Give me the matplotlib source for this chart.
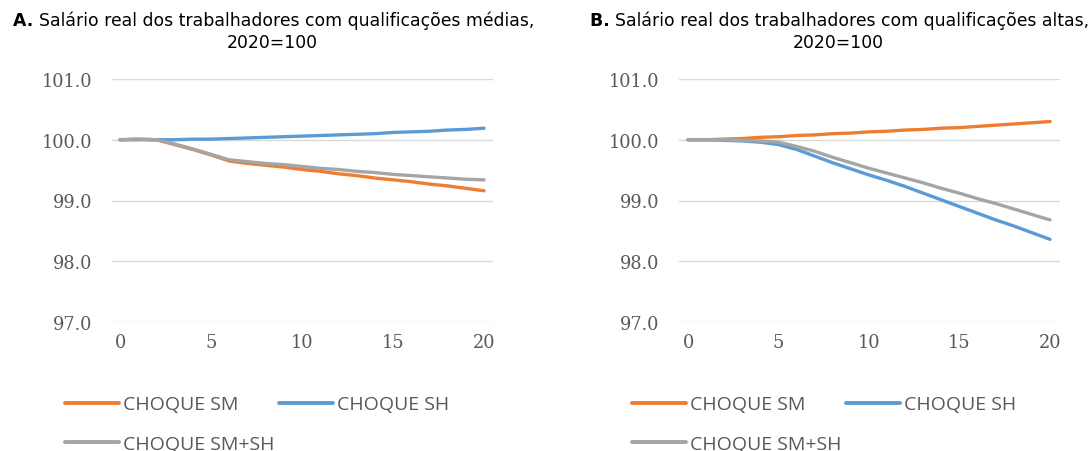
import matplotlib
matplotlib.use("Agg")
import matplotlib.pyplot as plt

years = list(range(21))

# Panel A: medium-skilled workers
a_sm = [100.00, 100.01, 100.00, 99.92, 99.84, 99.75, 99.65, 99.61, 99.58, 99.55, 99.51,
        99.48, 99.44, 99.41, 99.37, 99.34, 99.31, 99.27, 99.24, 99.20, 99.16]
a_sh = [100.00, 100.00, 100.00, 100.00, 100.01, 100.01, 100.02, 100.03, 100.04, 100.05, 100.06,
        100.07, 100.08, 100.09, 100.10, 100.12, 100.13, 100.14, 100.16, 100.17, 100.19]
a_both = [100.00, 100.01, 100.00, 99.93, 99.85, 99.76, 99.67, 99.64, 99.61, 99.59, 99.56,
          99.53, 99.51, 99.48, 99.46, 99.43, 99.41, 99.39, 99.37, 99.35, 99.34]

# Panel B: high-skilled workers
b_sm = [100.00, 100.00, 100.01, 100.02, 100.04, 100.05, 100.07, 100.08, 100.10, 100.11, 100.13,
        100.14, 100.16, 100.17, 100.19, 100.20, 100.22, 100.24, 100.26, 100.28, 100.30]
b_sh = [100.00, 100.00, 99.99, 99.98, 99.96, 99.92, 99.84, 99.73, 99.62, 99.52, 99.42,
        99.33, 99.23, 99.12, 99.01, 98.90, 98.79, 98.68, 98.58, 98.47, 98.36]
b_both = [100.00, 100.00, 100.00, 99.99, 99.98, 99.96, 99.89, 99.81, 99.71, 99.62, 99.53,
          99.45, 99.37, 99.29, 99.20, 99.12, 99.03, 98.95, 98.86, 98.77, 98.68]

labels = ["CHOQUE SM", "CHOQUE SH", "CHOQUE SM+SH"]
colors = ["#ED7D31", "#5B9BD5", "#A5A5A5"]
yticks = [97.0, 98.0, 99.0, 100.0, 101.0]
xticks = [0, 5, 10, 15, 20]

titles_main = ["Salário real dos trabalhadores com qualificações médias,",
               "Salário real dos trabalhadores com qualificações altas,"]
title_letters = ["A.", "B."]
title_sub = "2020=100"

W, H = 1091, 452
fig = plt.figure(figsize=(W / 100, H / 100), dpi=100)

panels = [(a_sm, a_sh, a_both), (b_sm, b_sh, b_both)]
ax_left_px = [112, 679]
ax_w_px = 381
ax_top_px, ax_bot_px = 80, 323
ax_h_px = ax_bot_px - ax_top_px
title_cx = [272, 838]
xlims = [(-0.44, 20.49), (-0.5, 20.55)]
TFS = 12.4

for i, series in enumerate(panels):
    ax = fig.add_axes([ax_left_px[i] / W, 1 - ax_bot_px / H, ax_w_px / W, ax_h_px / H])
    handles = []
    for s, c, lab in zip(series, colors, labels):
        h, = ax.plot(years, s, color=c, lw=2.4, solid_capstyle="round",
                     solid_joinstyle="round", label=lab, zorder=3)
        handles.append(h)
    ax.set_ylim(97.0, 101.0)
    ax.set_xlim(*xlims[i])
    ax.set_yticks(yticks)
    ax.set_yticklabels([f"{v:.1f}" for v in yticks])
    ax.set_xticks(xticks)
    ax.set_xticklabels([str(v) for v in xticks])
    ax.grid(axis="y", color="#D9D9D9", lw=1.0, zorder=0)
    for sp in ax.spines.values():
        sp.set_visible(False)
    ax.tick_params(axis="both", length=0, colors="#595959", labelsize=12.8)
    ax.tick_params(axis="y", pad=14)
    ax.tick_params(axis="x", pad=8)
    for t in ax.get_xticklabels() + ax.get_yticklabels():
        t.set_family("DejaVu Serif")

    # legend (row-major order like the original)
    order = [handles[0], handles[2], handles[1]]
    leg = ax.legend(order, [h.get_label() for h in order], ncol=2,
                    loc="upper left",
                    bbox_to_anchor=(-47 / ax_w_px, -0.302),
                    frameon=False, handlelength=2.8, handletextpad=0.2,
                    columnspacing=0.2, labelspacing=1.1, borderaxespad=0,
                    borderpad=0,
                    prop={"family": "Open Sans", "size": 14})
    for t in leg.get_texts():
        t.set_color("#595959")
    for ln in leg.get_lines():
        ln.set_linewidth(2.8)

    # title (bold letter + regular text, centred as a whole)
    t1 = fig.text(title_cx[i] / W, 1 - 21 / H, title_letters[i] + " " + titles_main[i],
                  ha="center", va="center", fontsize=TFS, family="DejaVu Sans")
    fig.canvas.draw()
    bb = t1.get_window_extent()
    t1.set_visible(False)
    tb = fig.text(bb.x0 / W, 1 - 21 / H, title_letters[i] + " ", ha="left", va="center",
                  fontsize=TFS, family="DejaVu Sans", fontweight="bold", color="black")
    fig.canvas.draw()
    bb2 = tb.get_window_extent()
    fig.text(bb2.x1 / W, 1 - 21 / H, titles_main[i], ha="left", va="center",
             fontsize=TFS, family="DejaVu Sans", color="black")
    fig.text(title_cx[i] / W, 1 - 43 / H, title_sub, ha="center", va="center",
             fontsize=TFS, family="DejaVu Sans", color="black")

fig.savefig("out.png", dpi=100)
